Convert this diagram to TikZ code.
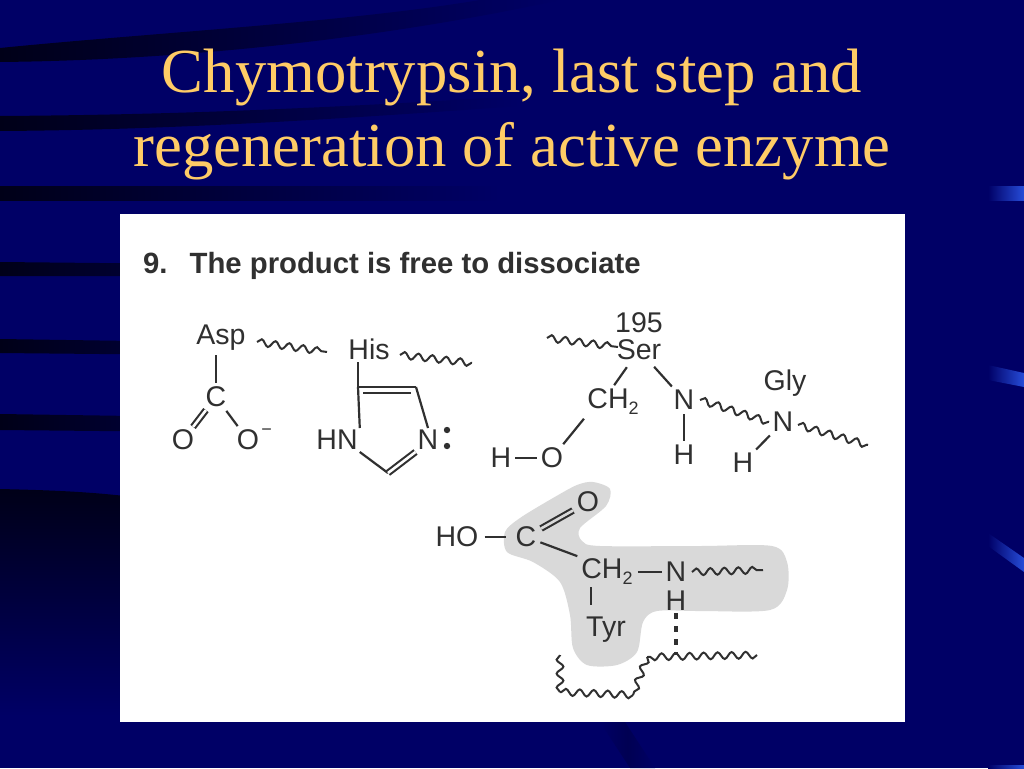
\documentclass[tikz,border=0pt]{standalone}
\usepackage{fontspec}
\setmainfont{Liberation Serif}
\setsansfont{Liberation Sans}
\usetikzlibrary{positioning,decorations.pathmorphing}
\definecolor{slidenavy}{HTML}{000066}
\definecolor{stripedark}{HTML}{000018}
\definecolor{barblue}{HTML}{3366FF}
\definecolor{titlegold}{HTML}{FFCC66}
\definecolor{inkgray}{HTML}{303030}
\definecolor{blobgray}{HTML}{D9D9D9}
\newcommand{\subtwo}{\raisebox{-.4ex}{\fontsize{18}{18}\selectfont 2}}
\newcommand{\supminus}{\raisebox{1.1ex}{\fontsize{18}{18}\selectfont\textminus}}
\begin{document}
\begin{tikzpicture}[x = 1pt, y = -1pt,
    atom/.style = {font = \sffamily\fontsize{28.5}{30}\selectfont, text = inkgray,
      inner sep = 2pt},
    bond/.style = {draw = inkgray, line width = 2.2pt},
    gapbond/.style = {bond, shorten <= 2pt, shorten >= 2pt},
    dblbond/.style = {draw = inkgray, line width = 2.1pt, double = white,
      double distance = 2.6pt},
    chain/.style = {draw = inkgray, line width = 2pt, decorate,
      decoration = {snake, amplitude = 3.4pt, segment length = 14pt}},
  ]
  \useasboundingbox (0,0) rectangle (1024,768);
  \fill [slidenavy] (0,0) rectangle (1024,768);
  % stripes on the left
  \shade [left color = stripedark, right color = slidenavy]
    (0,48) .. controls (200,46) and (400,30) .. (560,0) -- (480,0)
    .. controls (350,22) and (150,33) .. (0,48) -- (0,62)
    .. controls (200,60) and (400,35) .. (560,0) -- cycle;
  \shade [left color = stripedark, right color = slidenavy]
    (0,116) .. controls (150,115) and (300,110) .. (520,96)
    -- (520,106) .. controls (300,122) and (150,130) .. (0,131) -- cycle;
  \shade [left color = stripedark, right color = slidenavy]
    (0,186) -- (500,186) -- (500,200) -- (0,200) -- cycle;
  \shade [left color = stripedark, right color = slidenavy]
    (0,262) -- (400,266) -- (400,276) -- (0,276) -- cycle;
  \shade [left color = stripedark, right color = slidenavy]
    (0,339) -- (400,345) -- (400,357) -- (0,353) -- cycle;
  \shade [left color = stripedark, right color = slidenavy]
    (0,414) -- (400,420) -- (400,434) -- (0,430) -- cycle;
  \shade [top color = stripedark, bottom color = slidenavy]
    (0,489) .. controls (40,490) and (80,491) .. (125,496) -- (125,716) -- (0,716) -- cycle;
  \shade [left color = slidenavy, right color = slidenavy, middle color = stripedark!25!slidenavy]
    (600,722) -- (625,722) -- (655,768) -- (630,768) -- cycle;
  % marks on the right
  \foreach \ya/\yb/\yc/\yd in {186/200/200/186, 365/380/387/373, 533/546/572/558, 765/775/775/765}
    \shade [left color = slidenavy, middle color = barblue, right color = barblue!75!slidenavy]
      (988,\ya) -- (988,\yb) -- (1024,\yc) -- (1024,\yd) -- cycle;

  \node (Title) [text = titlegold, align = center, inner sep = 0pt,
    font = \fontsize{62.7}{74}\selectfont] at (512,115)
    {Chymotrypsin, last step and\\regeneration of active enzyme};

  \fill [white] (120,214) rectangle (905,722);
  \node (Step) [anchor = west, inner sep = 0pt, text = inkgray,
    font = \sffamily\bfseries\fontsize{29.3}{32}\selectfont] at (143,266)
    {9.\hspace{22pt}The product is free to dissociate};

  % aspartate
  \node [atom] (Asp) at (221,338) {Asp};
  \node [atom] (AspC) at (216,397) {C};
  \node [atom] (AspOa) at (183,440) {O};
  \node [atom] (AspOb) at (248,440) {O};
  \node [atom, anchor = west, inner sep = 0pt] (AspMinus) at (AspOb.east) {\supminus};
  \coordinate (AspA) at (257,342);
  \coordinate (AspB) at (327,352);
  \draw [gapbond] (AspC) -- (AspC |- Asp.south);
  \draw [dblbond, shorten <= 1pt, shorten >= 1pt] (AspC) -- (AspOa);
  \draw [gapbond] (AspC) -- (AspOb);
  \draw [chain] (AspA) -- (AspB);

  % histidine
  \node [atom] (His) at (369,349) {His};
  \coordinate (HisCa) at (358,387);
  \coordinate (HisCb) at (416,387);
  \coordinate (HisCc) at (388,473);
  \coordinate (HisIa) at (363,393);
  \coordinate (HisIb) at (411,393);
  \node [atom] (HisHN) at (337,440) {HN};
  \node [atom] (HisN) at (428,440) {N};
  \coordinate (HisA) at (400,355);
  \coordinate (HisB) at (472,363);
  \draw [bond] (HisCa) -- (HisCa |- His.south);
  \draw [bond] (HisCa) -- (HisCb);
  \draw [bond] (HisIa) -- (HisIb);
  \draw [bond] (HisCa) -- (HisHN.north east);
  \draw [bond] (HisCb) -- (HisN.north);
  \draw [bond] (HisHN.south east) -- (HisCc);
  \draw [dblbond] (HisCc) -- (HisN.south west);
  \fill [inkgray] (447,430) circle (3.2pt) (447,446) circle (3.2pt);
  \draw [chain] (HisA) -- (HisB);

  % serine and glycine
  \node [atom] (Ser) at (639,350) {Ser};
  \node [atom, above = 0pt of Ser, yshift = 3pt] (SerNum) {195};
  \node [atom] (SerCH) at (613,402) {CH\subtwo};
  \node [atom] (SerO) at (552,458) {O};
  \node [atom] (SerH) at (501,458) {H};
  \node [atom] (SerN) at (684,400) {N};
  \node [atom] (SerNH) at (684,455) {H};
  \node [atom] (Gly) at (785,383) {Gly};
  \node [atom] (GlyN) at (783,422) {N};
  \node [atom] (GlyH) at (743,463) {H};
  \coordinate (SerA) at (547,338);
  \coordinate (SerB) at (618,347);
  \coordinate (GlyA) at (700,400);
  \coordinate (GlyB) at (769,422);
  \coordinate (GlyC) at (798,425);
  \coordinate (GlyD) at (868,445);
  \draw [gapbond, shorten <= 6pt] (Ser) -- (SerCH.north);
  \draw [gapbond, shorten <= 6pt] (Ser) -- (SerN);
  \draw [gapbond] (SerCH.south west) -- (SerO);
  \draw [gapbond] (SerH) -- (SerO);
  \draw [gapbond] (SerN) -- (SerNH);
  \draw [gapbond] (GlyN) -- (GlyH);
  \draw [chain] (SerA) -- (SerB);
  \draw [chain] (GlyA) -- (GlyB);
  \draw [chain] (GlyC) -- (GlyD);

  % product on tyrosine, grey blob first
  \fill [blobgray] plot [smooth cycle, tension = .5] coordinates {
    (593,482) (610,489) (606,506) (580,528) (582,541) (600,546) (700,546) (772,546) (787,562)
    (787,590) (770,610) (700,611) (657,611) (643,622) (637,652) (617,665) (587,665)
    (573,648) (570,615) (560,582) (533,562) (507,552) (505,532) (520,518)
    (553,498) (577,485)};
  \node [atom] (TyrHO) at (457,537) {HO};
  \node [atom] (TyrC) at (526,537) {C};
  \node [atom] (TyrO) at (588,502) {O};
  \node [atom] (TyrCH) at (607,572) {CH\subtwo};
  \node [atom] (TyrN) at (676,572) {N};
  \node [atom] (TyrH) at (676,601) {H};
  \node [atom] (Tyr) at (606,630) {Tyr};
  \coordinate (TyrA) at (692,572);
  \coordinate (TyrB) at (763,570);
  \coordinate (LoopA) at (757,655);
  \coordinate (LoopB) at (647,657);
  \coordinate (LoopC) at (633,695);
  \coordinate (LoopD) at (560,692);
  \coordinate (LoopE) at (560,655);
  \draw [gapbond, shorten <= 4pt, shorten >= 8pt] (TyrHO) -- (TyrC);
  \draw [dblbond, double = blobgray, shorten <= 3pt, shorten >= 2pt] (TyrC) -- (TyrO);
  \draw [gapbond] (TyrC) -- (TyrCH.north west);
  \draw [gapbond, shorten <= 3pt] (TyrCH) -- (TyrN);
  \draw [bond] (TyrCH.south -| Tyr.west) ++(7pt,0) -- ++(0,18);
  \draw [line width = 4.4pt, inkgray, dash pattern = on 6pt off 7pt] (TyrH) -- (LoopA -| TyrH);
  \draw [chain] (TyrA) -- (TyrB);
  \draw [chain] (LoopA) -- (LoopB);
  \draw [chain] (LoopB) -- (LoopC);
  \draw [chain] (LoopC) -- (LoopD);
  \draw [chain] (LoopD) -- (LoopE);
\end{tikzpicture}
\end{document}
